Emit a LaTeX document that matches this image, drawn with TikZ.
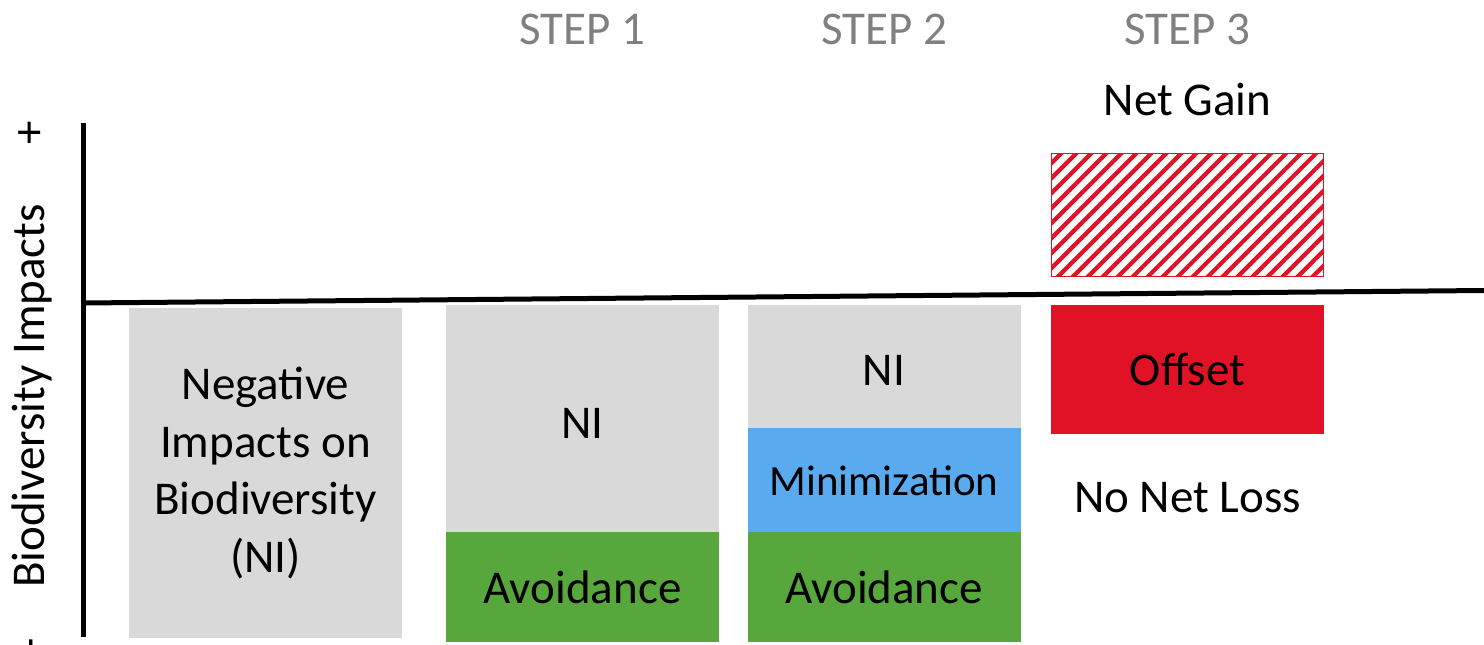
\documentclass[tikz,border=0pt]{standalone}
\usepackage{fontspec}
\setmainfont{Carlito}
\usetikzlibrary{patterns.meta}
\definecolor{boxgray}{HTML}{D9D9D9}
\definecolor{avgreen}{HTML}{58A73C}
\definecolor{minblue}{HTML}{5AAAF0}
\definecolor{offred}{HTML}{E11126}
\definecolor{stepgray}{HTML}{808080}
\begin{document}
\begin{tikzpicture}[x=1pt,y=-1pt,
  lbl/.style={font=\fontsize{47}{57.5}\selectfont, inner sep=0pt, anchor=base, align=center},
  steplbl/.style={lbl, text=stepgray},
  blk/.style={draw=none, inner sep=0pt, minimum width=273pt},
  axisline/.style={line width=5pt, black}]
\useasboundingbox (0,0) rectangle (1484,645);

% boxes
\node[blk, fill=boxgray, minimum height=330pt] (b1) at (265.5,473) {};
\node[blk, fill=boxgray, minimum height=227pt] (b2ni) at (582.5,418.5) {};
\node[blk, fill=avgreen, minimum height=110pt] (b2av) at (582.5,587) {};
\node[blk, fill=boxgray, minimum height=123pt] (b3ni) at (884,366.5) {};
\node[blk, fill=minblue, minimum height=104pt] (b3mi) at (884,480) {};
\node[blk, fill=avgreen, minimum height=110pt] (b3av) at (884,587) {};
\node[blk, fill=offred, minimum height=129pt] (off) at (1187.5,369.5) {};
\node[blk, draw=offred, line width=1.5pt, minimum width=272pt, minimum height=123pt,
      pattern={Lines[angle=45,distance=10.6pt,line width=4.2pt]}, pattern color=offred] (gain) at (1187.5,215) {};

% axes
\coordinate (ytop) at (83,123);
\coordinate (ybot) at (83,637);
\coordinate (xl) at (83,303);
\coordinate (xr) at (1484,290.5);
\draw[axisline] (ytop) -- (ybot);
\draw[axisline] (xl) -- (xr);

% axis labels
\node[lbl, rotate=90, anchor=base] (ylab) at (45,396) {Biodiversity Impacts};
\node[lbl, rotate=90, anchor=base] (yplus) at (45,133) {+};
\node[lbl, rotate=90, anchor=base] (yminus) at (45,645) {-};

% step labels
\node[steplbl] (s1) at (582,45) {STEP 1};
\node[steplbl] (s2) at (884,45) {STEP 2};
\node[steplbl] (s3) at (1187,45) {STEP 3};

% texts
\node[lbl, anchor=center] (t1) at (265.5,473) {Negative\\Impacts on\\Biodiversity\\(NI)};
\node[lbl] (t2) at (582.5,438) {NI};
\node[lbl] (t3) at (582.5,603) {Avoidance};
\node[lbl] (t4) at (884,385) {NI};
\node[lbl, font=\fontsize{43}{52}\selectfont] (t5) at (884,495) {Minimization};
\node[lbl] (t6) at (884,603) {Avoidance};
\node[lbl] (t7) at (1187.5,385) {Offset};
\node[lbl] (t8) at (1187.5,115) {Net Gain};
\node[lbl] (t9) at (1187.5,512) {No Net Loss};
\end{tikzpicture}
\end{document}
